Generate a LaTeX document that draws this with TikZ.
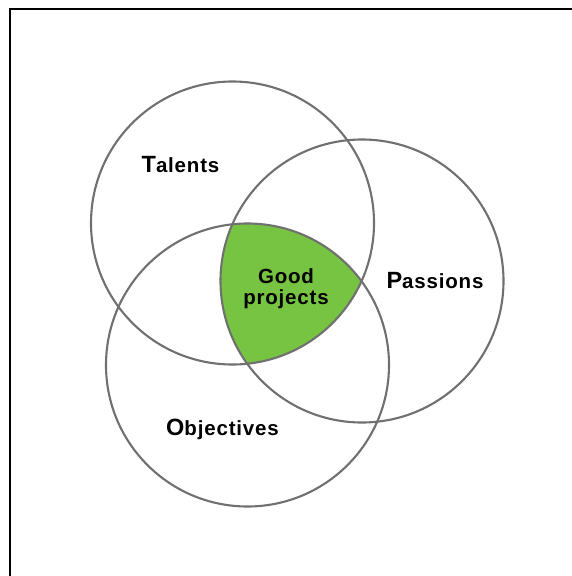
\documentclass[tikz,border=0pt]{standalone}
\usepackage{fontspec}
\setmainfont{Liberation Sans}
\newfontfamily\lblfont[LetterSpace=4]{Liberation Sans}
\begin{document}
\begin{tikzpicture}[x=1pt,y=-1pt,
  ring/.style={draw=ringgray,line width=2.1pt},
  lbl/.style={font=\lblfont\bfseries\fontsize{20.5}{22}\selectfont,text=black,inner sep=0pt,anchor=base},
  frame/.style={draw=black,line width=2.2pt}]
\definecolor{ringgray}{RGB}{112,112,112}
\definecolor{goodgreen}{RGB}{118,196,66}
\useasboundingbox (0,0) rectangle (571,576);
\fill[white] (0,0) rectangle (571,576);
% frame (right and bottom sides lie outside the picture)
\coordinate (fbl) at (10.3,590);
\coordinate (ftl) at (10.3,9);
\coordinate (ftr) at (590,9);
\draw[frame] (fbl) -- (ftl) -- (ftr);
% circle centres
\coordinate (ct) at (232.5,223);
\coordinate (cp) at (362,281);
\coordinate (co) at (247.5,365);
% green intersection
\begin{scope}
  \clip (ct) circle (141.5);
  \clip (cp) circle (141.5);
  \fill[goodgreen] (co) circle (141.5);
\end{scope}
\draw[ring] (ct) circle (141.5);
\draw[ring] (cp) circle (141.5);
\draw[ring] (co) circle (141.5);
% labels
\node[lbl] (talents) at (180.5,172.5) {{\fontsize{23.5}{22}\selectfont T}alents};
\node[lbl] (passions) at (435,288.5) {{\fontsize{23.5}{22}\selectfont P}assions};
\node[lbl] (objectives) at (222.5,435.5) {{\fontsize{23.5}{22}\selectfont O}bjectives};
\node[lbl] (good) at (286,283.5) {Good};
\node[lbl] (projects) at (286,304.5) {projects};
\end{tikzpicture}
\end{document}
